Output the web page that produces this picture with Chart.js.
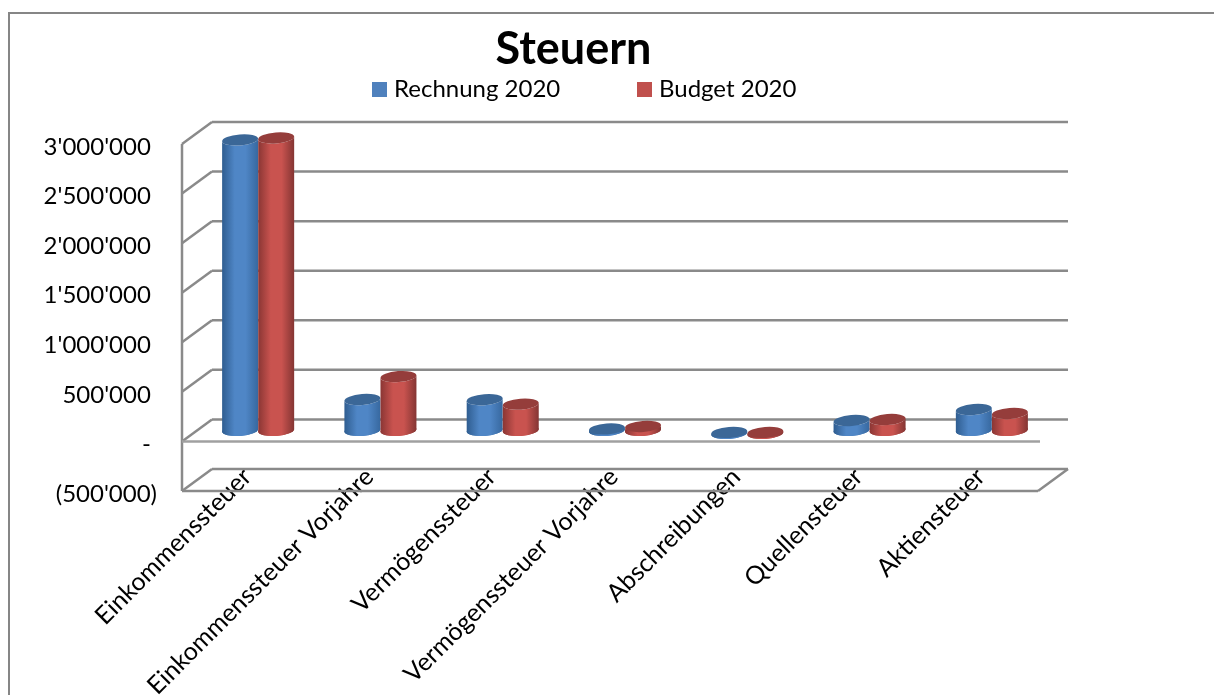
<!DOCTYPE html>
<html>
<head>
<meta charset="utf-8">
<title>Steuern</title>
<script src="https://cdn.jsdelivr.net/npm/chart.js@4/dist/chart.umd.min.js"></script>
<style>
    html, body { margin: 0; padding: 0; background: #fff; overflow: hidden; }
    canvas { display: block; }
</style>
</head>
<body>
<canvas id="taxChart" width="1214" height="695"></canvas>
<script>
// Data
const categories = ['Einkommenssteuer', 'Einkommenssteuer Vorjahre', 'Vermögenssteuer', 'Vermögenssteuer Vorjahre', 'Abschreibungen', 'Quellensteuer', 'Aktiensteuer'];
const rechnung2020 = [2930000, 312000, 310000, 15000, -20000, 100000, 211000];
const budget2020 = [2950000, 543000, 265000, 40000, -20000, 110000, 171000];
const seriesNames = ['Rechnung 2020', 'Budget 2020'];

const FONT = 'Lato';
const GRID = '#8a8a8a';
const DEPTH_X = 30;
const DEPTH_Y = 22;

// Light and dark shades of each series
const shades = {
    '#4f81bd': { edgeL: '#2f5d90', edgeR: '#37689f', mid: '#4f86c6', cap: '#3b6797' },
    '#c0504d': { edgeL: '#8a3634', edgeR: '#843533', mid: '#c9534f', cap: '#953d3b' }
};

function formatTick(value) {
    if (value === 0) return '- ';
    const text = Math.abs(value).toString().replace(/\B(?=(\d{3})+$)/g, "'");
    return value < 0 ? `(${text})` : `${text} `;
}

// Labels stick out of their scale box in the original, so no clipping
function noLabelClip(scale) {
    scale._computeLabelArea = () => undefined;
}

function line(ctx, x1, y1, x2, y2) {
    ctx.beginPath();
    ctx.moveTo(x1, y1);
    ctx.lineTo(x2, y2);
    ctx.stroke();
}

// Walls of the 3D box
function drawWalls(chart) {
    const { ctx, chartArea: area, scales: { y } } = chart;
    ctx.save();
    ctx.strokeStyle = GRID;
    ctx.lineWidth = 2.5;
    y.ticks.forEach(tick => {
        const py = y.getPixelForValue(tick.value);
        line(ctx, area.left, py, area.left + DEPTH_X, py - DEPTH_Y);
        line(ctx, area.left + DEPTH_X, py - DEPTH_Y, area.right + DEPTH_X, py - DEPTH_Y);
    });
    line(ctx, area.left, area.top, area.left, area.bottom);
    line(ctx, area.left, area.bottom, area.right, area.bottom);
    line(ctx, area.right, area.bottom, area.right + DEPTH_X, area.bottom - DEPTH_Y);
    ctx.strokeStyle = '#a0a0a0';
    const zero = y.getPixelForValue(0);
    line(ctx, area.left, zero, area.right + 2, zero);
    ctx.restore();
}

// One cylinder, standing in the middle of the box depth
function drawCylinder(ctx, bar, color) {
    const rx = bar.width / 2;
    const ry = 5.5;
    const tilt = -0.08;
    const x = bar.x + DEPTH_X / 2;
    const top = bar.y - DEPTH_Y / 2;
    const bottom = Math.max(bar.base - DEPTH_Y / 2, top + 1);
    const s = shades[color];

    const grad = ctx.createLinearGradient(x - rx, 0, x + rx, 0);
    grad.addColorStop(0, s.edgeL);
    grad.addColorStop(0.35, s.mid);
    grad.addColorStop(0.65, s.mid);
    grad.addColorStop(1, s.edgeR);

    ctx.fillStyle = grad;
    ctx.beginPath();
    ctx.ellipse(x, top, rx, ry, tilt, Math.PI, 0, true);
    ctx.ellipse(x, bottom, rx, ry, tilt, 0, Math.PI, false);
    ctx.closePath();
    ctx.fill();
    ctx.beginPath();
    ctx.ellipse(x, bottom, rx, ry, tilt, 0, Math.PI * 2);
    ctx.fill();

    ctx.fillStyle = s.cap;
    ctx.beginPath();
    ctx.ellipse(x, top, rx, ry, tilt, 0, Math.PI * 2);
    ctx.fill();
}

// Legend with the wide gap of the original
function drawLegend(chart) {
    const { ctx } = chart;
    const starts = [372, 637];
    ctx.save();
    ctx.font = `24px ${FONT}`;
    ctx.textBaseline = 'middle';
    chart.data.datasets.forEach((ds, i) => {
        ctx.fillStyle = ds.backgroundColor;
        ctx.fillRect(starts[i], 82, 15, 15);
        ctx.fillStyle = '#000';
        ctx.fillText(ds.label, starts[i] + 22, 89);
    });
    ctx.restore();
}

const box3d = {
    id: 'box3d',
    beforeDraw(chart) {
        const { ctx } = chart;
        ctx.save();
        ctx.strokeStyle = '#868686';
        ctx.lineWidth = 2;
        ctx.beginPath();
        ctx.moveTo(9, chart.height);
        ctx.lineTo(9, 13);
        ctx.lineTo(chart.width, 13);
        ctx.stroke();
        ctx.restore();
        // y labels sit a little below their tick in the original
        chart.scales.y.getLabelItems().forEach(item => { item.options.translation[1] += 3; });
        chart.scales.x.getLabelItems().forEach(item => { item.options.translation[0] += 4; });
    },
    beforeDatasetsDraw(chart) {
        drawWalls(chart);
        chart.data.datasets.forEach((ds, i) => {
            chart.getDatasetMeta(i).data.forEach(bar => drawCylinder(chart.ctx, bar, ds.backgroundColor));
        });
        drawLegend(chart);
        return false; // the flat bars are not drawn
    }
};

new Chart(document.getElementById('taxChart').getContext('2d'), {
    type: 'bar',
    data: {
        labels: categories,
        datasets: [
            { label: seriesNames[0], data: rechnung2020, backgroundColor: '#4f81bd' },
            { label: seriesNames[1], data: budget2020, backgroundColor: '#c0504d' }
        ]
    },
    plugins: [box3d],
    options: {
        responsive: false,
        animation: false,
        categoryPercentage: 0.59,
        barPercentage: 1,
        layout: { padding: { left: 109, right: 176, top: 0, bottom: 0 } },
        plugins: {
            legend: { display: false },
            tooltip: { enabled: false },
            title: {
                display: true,
                text: 'Steuern',
                color: '#000',
                font: { family: FONT, size: 45, weight: 'bold', lineHeight: 1 },
                padding: { top: 26.5, bottom: 72.5 }
            }
        },
        scales: {
            x: {
                grid: { display: false },
                border: { display: false },
                afterFit(scale) { scale.height = 204; noLabelClip(scale); },
                ticks: {
                    color: '#000',
                    font: { family: FONT, size: 25 },
                    autoSkip: false,
                    minRotation: 45,
                    maxRotation: 45,
                    padding: -37
                }
            },
            y: {
                min: -500000,
                max: 3000000,
                grid: { display: false, drawTicks: false },
                border: { display: false },
                afterFit(scale) { scale.width = 73; noLabelClip(scale); },
                ticks: {
                    stepSize: 500000,
                    color: '#000',
                    font: { family: FONT, size: 24 },
                    padding: 25,
                    callback: formatTick
                }
            }
        }
    }
});
</script>
</body>
</html>
